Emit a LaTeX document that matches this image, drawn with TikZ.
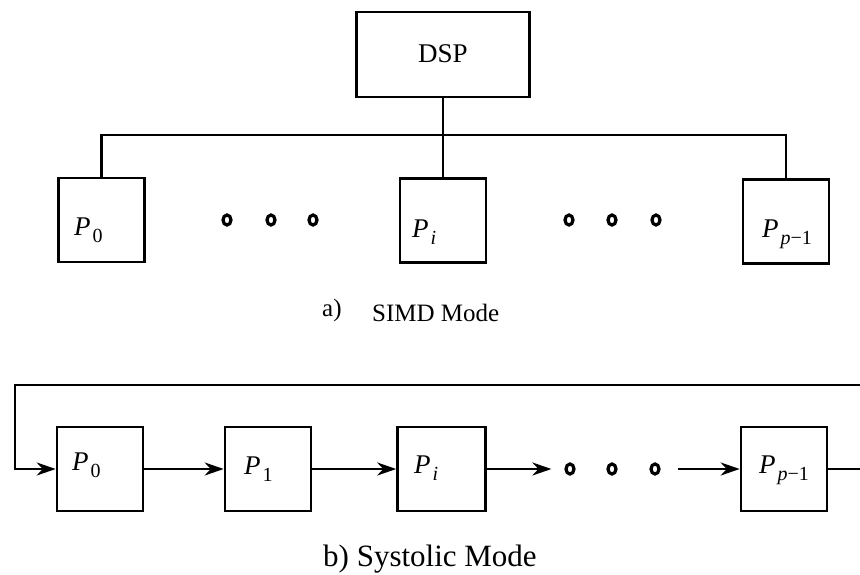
\documentclass[tikz,border=0pt]{standalone}
\usepackage{fontspec}
\setmainfont{Liberation Serif}
\usetikzlibrary{arrows.meta,shapes.geometric}
\newcommand\Plab[1]{{\itshape P}\kern2pt\raisebox{-7pt}{\fontsize{20}{20}\selectfont #1}}
\begin{document}
\begin{tikzpicture}[x=1pt,y=-1pt,
  pbox/.style={draw,line width=2.6pt,minimum width=86pt,minimum height=84pt,inner sep=0pt},
  plab/.style={anchor=base west,inner sep=0pt,font=\fontsize{27}{27}\selectfont},
  dotnode/.style={ellipse,draw,line width=3.2pt,minimum width=8pt,minimum height=10pt,inner sep=0pt},
  wire/.style={line width=2.4pt},
  arr/.style={line width=2.4pt,-{Stealth[length=19pt,width=13pt,inset=6pt]}},
  captext/.style={anchor=base west,inner sep=0pt}]
\useasboundingbox (0,0) rectangle (860,574);
% ---- a) SIMD ----
\node[pbox,minimum width=173pt,minimum height=85pt] (DSP) at (443,54.5) {};
\node[inner sep=0pt,font=\fontsize{27}{27}\selectfont] (DSPt) at (443,54) {DSP};
\node[pbox] (A0) at (101.5,220) {};
\node[pbox] (Ai) at (443,220.5) {};
\node[pbox] (Ap) at (786,221.5) {};
\node[plab] (A0t) at (74,235) {\Plab{0}};
\node[plab] (Ait) at (412,237) {\Plab{\itshape i}};
\node[plab] (Apt) at (762,237) {\Plab{{\itshape p}−1}};
\coordinate (bus) at (443,135);
\draw[wire] (DSP.south) -- (Ai.north);
\draw[wire] (A0.north) -- (A0.north |- bus) -- (Ap.north |- bus) -- (Ap.north);
\node[dotnode] (ad1) at (227,220) {};
\node[dotnode] (ad2) at (271,220) {};
\node[dotnode] (ad3) at (313,220) {};
\node[dotnode] (ad4) at (569,220) {};
\node[dotnode] (ad5) at (612,220) {};
\node[dotnode] (ad6) at (656,220) {};
\node[captext,font=\fontsize{25}{25}\selectfont] (capa) at (322,316) {a)};
\node[captext,font=\fontsize{25}{25}\selectfont] (capa2) at (372,321) {SIMD Mode};
% ---- b) Systolic ----
\node[pbox] (B0) at (100,469) {};
\node[pbox] (B1) at (268,469) {};
\node[pbox,minimum width=88pt] (Bi) at (441.5,469) {};
\node[pbox] (Bp) at (784,469) {};
\node[plab] (B0t) at (72,470) {\Plab{0}};
\node[plab] (B1t) at (244,474) {\Plab{1}};
\node[plab] (Bit) at (414,473) {\Plab{\itshape i}};
\node[plab] (Bpt) at (759,473) {\Plab{{\itshape p}−1}};
\node[dotnode] (bd1) at (570,469) {};
\node[dotnode] (bd2) at (612,469) {};
\node[dotnode] (bd3) at (655,469) {};
\draw[arr] (B0.east) -- (B1.west);
\draw[arr] (B1.east) -- (Bi.west);
\draw[arr,shorten >=13pt] (Bi.east) -- (bd1.west);
\draw[arr,shorten <=17pt] (bd3.east) -- (Bp.west);
\coordinate (R1) at (860,469);
\coordinate (R2) at (860,385);
\coordinate (L1) at (15,385);
\draw[wire] (Bp.east) -- (R1);
\draw[arr] (R2) -- (L1) |- (B0.west);
\node[captext,font=\fontsize{31}{31}\selectfont] (capb) at (323,566) {b) Systolic Mode};
\end{tikzpicture}
\end{document}
